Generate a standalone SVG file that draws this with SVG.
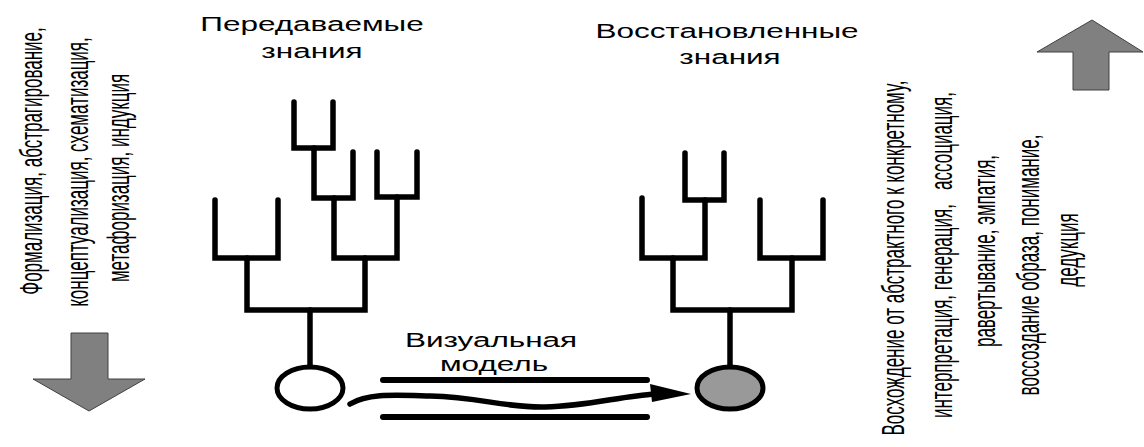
<svg xmlns="http://www.w3.org/2000/svg" width="1144" height="447" viewBox="0 0 1144 447">
<style>
.t{font-family:"Liberation Sans",Arial,sans-serif;fill:#000;text-anchor:middle}
.title{font-size:21px}
.side{font-size:17px;white-space:pre}
.tree{fill:none;stroke:#000;stroke-width:5.5;stroke-linecap:round;stroke-linejoin:miter}
.bar{fill:none;stroke:#000;stroke-width:6;stroke-linecap:round}
.big{fill:#808080;stroke:#404040;stroke-width:1}
</style>
<rect width="1144" height="447" fill="#fff"/>

<g id="left-arrow">
<polygon class="big" points="71,333 108,333 108,379 145,379 89,411 33,379 71,379"/>
</g>
<g id="left-text">
<text class="t side" transform="translate(42,161) scale(1.85,1) rotate(-90)">Формализация, абстрагирование,</text>
<text class="t side" transform="translate(88,172) scale(1.85,1) rotate(-90)">концептуализация, схематизация,</text>
<text class="t side" transform="translate(129,178) scale(1.85,1) rotate(-90)">метафоризация, индукция</text>
</g>

<g id="title-left">
<text class="t title" transform="translate(312,31) scale(1.5,1)">Передаваемые</text>
<text class="t title" transform="translate(312,58) scale(1.5,1)">знания</text>
</g>
<g id="title-right">
<text class="t title" transform="translate(727,38) scale(1.5,1)">Восстановленные</text>
<text class="t title" transform="translate(730,64) scale(1.5,1)">знания</text>
</g>

<g id="tree-left">
<path class="tree" d="M294,102 V148 H333 V102"/>
<path class="tree" d="M314,148 V198 H353 V152"/>
<path class="tree" d="M377,152 V197 H417 V152"/>
<path class="tree" d="M334,198 V258 H397 V197"/>
<path class="tree" d="M215,200 V258 H278 V200"/>
<path class="tree" d="M247,258 V310 H365 V258"/>
<path class="tree" d="M310,310 V366"/>
<ellipse cx="310" cy="388" rx="33" ry="21" fill="#fff" stroke="#000" stroke-width="5"/>
</g>

<g id="tree-right">
<path class="tree" d="M685,153 V200 H724 V153"/>
<path class="tree" d="M705,200 V258 H642 V198"/>
<path class="tree" d="M760,200 V258 H823 V200"/>
<path class="tree" d="M673,258 V310 H792 V258"/>
<path class="tree" d="M730,310 V366"/>
<ellipse cx="730" cy="388" rx="33" ry="21" fill="#999" stroke="#000" stroke-width="5"/>
</g>

<g id="visual-model">
<text class="t title" transform="translate(491,347) scale(1.5,1)">Визуальная</text>
<text class="t title" transform="translate(494,371) scale(1.5,1)">модель</text>
</g>

<g id="connectors">
<path class="bar" d="M383,380 H647"/>
<path class="bar" d="M383,417 H647"/>
<path d="M350,404 C368,393 395,395 430,396 C480,397 505,408 545,407 C590,406 620,396 656,394" fill="none" stroke="#000" stroke-width="5.5" stroke-linecap="round"/>
<polygon points="650,384 691,394 652,402" fill="#000"/>
</g>

<g id="right-text">
<text class="t side" transform="translate(904,258) scale(1.85,1) rotate(-90)">Восхождение от абстрактного к конкретному,</text>
<text class="t side" transform="translate(952,255) scale(1.85,1) rotate(-90)">интерпретация, генерация,   ассоциация,</text>
<text class="t side" transform="translate(995,251) scale(1.85,1) rotate(-90)">равертывание, эмпатия,</text>
<text class="t side" transform="translate(1039,265) scale(1.85,1) rotate(-90)">воссоздание образа, понимание,</text>
<text class="t side" transform="translate(1078,250) scale(1.85,1) rotate(-90)">дедукция</text>
</g>
<g id="right-arrow">
<polygon class="big" points="1092,20 1143,52 1109,52 1109,90 1073,90 1073,52 1037,52"/>
</g>
</svg>
